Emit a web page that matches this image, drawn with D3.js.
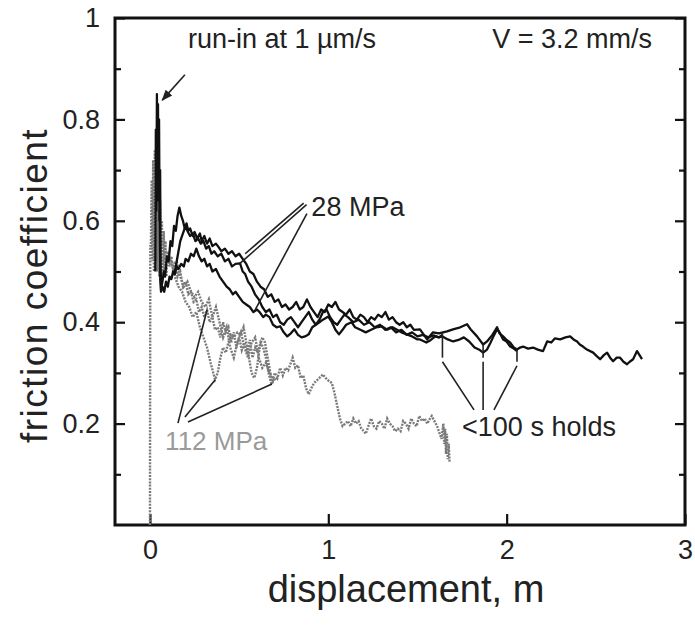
<!DOCTYPE html>
<html lang="en">
<head>
  <meta charset="UTF-8">
  <title>Friction coefficient vs displacement</title>
  <style>
    html, body { margin: 0; padding: 0; background: #fff; }
    svg { display: block; font-family: "Liberation Sans", Arial, sans-serif; }
  </style>
</head>
<body>
  <svg id="svg" width="695" height="626"></svg>

  <script src="https://cdn.jsdelivr.net/npm/d3@7"></script>
  <script>
    // ---- data: [displacement (m), friction coefficient] ----
    const blackA = [
      [0.030,0.50],[0.033,0.78],[0.036,0.62],[0.039,0.85],[0.042,0.66],[0.045,0.83],[0.048,0.64],[0.051,0.80],
      [0.054,0.60],[0.057,0.70],[0.060,0.50],[0.064,0.47],[0.070,0.48],[0.078,0.50],[0.085,0.49],[0.095,0.53],
      [0.105,0.52],[0.115,0.56],[0.125,0.55],[0.135,0.59],[0.145,0.58],[0.155,0.61],[0.165,0.626],[0.175,0.61],
      [0.185,0.60],[0.195,0.585],[0.205,0.595],[0.215,0.58],[0.225,0.585],[0.24,0.57],[0.25,0.578],[0.265,0.565],
      [0.28,0.575],[0.29,0.56],[0.305,0.57],[0.32,0.555],[0.335,0.565],[0.35,0.55],[0.37,0.555],[0.385,0.548],
      [0.40,0.54],[0.42,0.545],[0.44,0.535],[0.46,0.54],[0.48,0.53],[0.50,0.535],[0.52,0.525],[0.54,0.515],
      [0.56,0.50],[0.58,0.495],[0.60,0.48],[0.62,0.47],[0.64,0.465],[0.66,0.45],[0.68,0.455],[0.70,0.44],
      [0.72,0.445],[0.74,0.43],[0.76,0.435],[0.78,0.425],[0.80,0.43],[0.82,0.44],[0.84,0.425],[0.86,0.43],
      [0.88,0.445],[0.90,0.43],[0.92,0.42],[0.94,0.41],[0.96,0.425],[0.98,0.42],[1.00,0.435],[1.02,0.43],
      [1.04,0.44],[1.06,0.425],[1.08,0.42],[1.10,0.415],[1.12,0.425],[1.14,0.41],[1.16,0.405],[1.18,0.415],
      [1.20,0.41],[1.22,0.40],[1.24,0.41],[1.26,0.405],[1.28,0.415],[1.30,0.41],[1.32,0.42],[1.34,0.405],
      [1.36,0.41],[1.38,0.40],[1.40,0.395],[1.42,0.40],[1.44,0.39],[1.46,0.395],[1.48,0.385],[1.514,0.386],
      [1.554,0.366],[1.587,0.38],[1.62,0.378],[1.666,0.382],[1.699,0.386],[1.74,0.39],[1.778,0.396],[1.80,0.385],
      [1.834,0.372],[1.868,0.356],[1.89,0.362],[1.92,0.375],[1.946,0.39],[1.96,0.378],[1.98,0.372],[2.00,0.365],
      [2.019,0.36],[2.04,0.35],[2.058,0.346],[2.075,0.35],[2.092,0.352],[2.12,0.348],[2.148,0.35],[2.175,0.346],
      [2.204,0.343],[2.227,0.362],[2.25,0.36],[2.27,0.368],[2.30,0.366],[2.33,0.37],[2.356,0.372],[2.375,0.366],
      [2.395,0.362],[2.41,0.356],[2.428,0.352],[2.45,0.346],[2.485,0.34],[2.505,0.333],[2.524,0.327],[2.545,0.335],
      [2.563,0.34],[2.58,0.33],[2.597,0.323],[2.617,0.33],[2.636,0.33],[2.655,0.322],[2.675,0.317],[2.69,0.322],
      [2.709,0.327],[2.731,0.343],[2.745,0.335],[2.759,0.327]
    ];

    const blackB = [
      [0.055,0.62],[0.058,0.48],[0.062,0.46],[0.07,0.47],[0.08,0.46],[0.09,0.48],[0.10,0.47],[0.11,0.49],
      [0.12,0.485],[0.13,0.50],[0.14,0.495],[0.15,0.51],[0.16,0.505],[0.175,0.515],[0.19,0.51],[0.20,0.525],
      [0.215,0.52],[0.23,0.535],[0.245,0.53],[0.26,0.545],[0.275,0.53],[0.29,0.52],[0.305,0.525],[0.32,0.51],
      [0.335,0.515],[0.35,0.50],[0.37,0.505],[0.39,0.49],[0.41,0.48],[0.43,0.47],[0.447,0.465],[0.465,0.455],
      [0.48,0.46],[0.50,0.45],[0.52,0.44],[0.54,0.435],[0.56,0.43],[0.58,0.42],[0.60,0.425],[0.615,0.42],
      [0.635,0.41],[0.65,0.415],[0.67,0.41],[0.69,0.395],[0.71,0.39],[0.73,0.392],[0.75,0.38],[0.77,0.372],
      [0.79,0.378],[0.81,0.386],[0.83,0.375],[0.85,0.37],[0.87,0.372],[0.89,0.376],[0.91,0.39],[0.93,0.395],
      [0.95,0.40],[0.97,0.405],[1.00,0.411],[1.02,0.40],[1.04,0.385],[1.06,0.376],[1.08,0.385],[1.10,0.395],
      [1.13,0.40],[1.15,0.39],[1.18,0.385],[1.21,0.38],[1.24,0.385],[1.27,0.39],[1.30,0.392],[1.33,0.385],
      [1.36,0.39],[1.38,0.386],[1.41,0.38],[1.44,0.376],[1.47,0.372],[1.50,0.366],[1.514,0.366],[1.55,0.36],
      [1.575,0.365],[1.60,0.372],[1.62,0.37],[1.64,0.372],[1.67,0.366],[1.70,0.362],[1.73,0.365],[1.76,0.37],
      [1.79,0.362],[1.82,0.35],[1.85,0.345],[1.868,0.34],[1.89,0.346],[1.91,0.36],[1.93,0.375],[1.946,0.386],
      [1.96,0.38],[1.98,0.366],[2.00,0.362],[2.02,0.352],[2.04,0.348],[2.058,0.343]
    ];

    const blackC = [
      [0.14,0.50],[0.155,0.53],[0.17,0.56],[0.185,0.575],[0.20,0.59],[0.21,0.58],[0.225,0.57],[0.24,0.575],
      [0.255,0.56],[0.27,0.565],[0.285,0.555],[0.30,0.56],[0.315,0.545],[0.33,0.55],[0.345,0.535],[0.36,0.54],
      [0.38,0.53],[0.40,0.535],[0.42,0.52],[0.44,0.525],[0.46,0.51],[0.48,0.515],[0.505,0.516],[0.52,0.50],
      [0.534,0.495],[0.55,0.48],[0.57,0.47],[0.589,0.455],[0.61,0.445],[0.63,0.43],[0.65,0.42],[0.67,0.425],
      [0.69,0.41],[0.71,0.415],[0.73,0.40],[0.75,0.395],[0.77,0.405],[0.79,0.41],[0.81,0.40],[0.83,0.39],
      [0.85,0.40],[0.87,0.41],[0.89,0.42],[0.91,0.405],[0.93,0.395],[0.95,0.405],[0.97,0.42],[0.99,0.425],
      [1.01,0.41],[1.03,0.40],[1.05,0.395],[1.07,0.405],[1.09,0.415],[1.11,0.41],[1.14,0.40],[1.17,0.405],
      [1.20,0.395],[1.23,0.40],[1.26,0.39],[1.29,0.395],[1.32,0.385],[1.35,0.39],[1.38,0.38],[1.41,0.385],
      [1.44,0.375],[1.47,0.38],[1.50,0.372],[1.53,0.375],[1.56,0.37],[1.59,0.374],[1.62,0.37],[1.64,0.375]
    ];

    const grayA = [
      [0.0,0.0],[0.002,0.55],[0.005,0.55],[0.010,0.68],[0.014,0.52],[0.018,0.72],[0.022,0.50],[0.027,0.74],
      [0.032,0.52],[0.037,0.71],[0.042,0.50],[0.047,0.68],[0.052,0.49],[0.057,0.64],[0.062,0.48],[0.067,0.60],
      [0.072,0.49],[0.077,0.58],[0.082,0.50],[0.087,0.56],[0.092,0.49],[0.10,0.54],[0.11,0.51],[0.12,0.53],
      [0.13,0.50],[0.14,0.52],[0.155,0.49],[0.17,0.50],[0.185,0.47],[0.20,0.48],[0.215,0.455],[0.23,0.46],
      [0.245,0.44],[0.26,0.445],[0.275,0.42],[0.29,0.43],[0.305,0.41],[0.32,0.424],[0.335,0.40],[0.35,0.41],
      [0.365,0.385],[0.38,0.39],[0.395,0.37],[0.41,0.40],[0.425,0.38],[0.44,0.39],[0.455,0.36],[0.47,0.38],
      [0.485,0.35],[0.50,0.37],[0.515,0.345],[0.53,0.36],[0.545,0.34],[0.56,0.365],[0.575,0.33],[0.59,0.35],
      [0.605,0.34],[0.62,0.36],[0.635,0.35],[0.65,0.33],[0.665,0.30],[0.68,0.28],[0.69,0.285],[0.70,0.30],
      [0.715,0.29],[0.73,0.31],[0.745,0.295],[0.76,0.31],[0.775,0.305],[0.79,0.32],[0.80,0.33],[0.815,0.31],
      [0.83,0.315],[0.845,0.29],[0.86,0.295],[0.875,0.27],[0.89,0.258],[0.905,0.27],[0.92,0.28],[0.935,0.285],
      [0.95,0.29],[0.97,0.297],[0.985,0.29],[1.00,0.285],[1.02,0.28],[1.035,0.26],[1.05,0.235],[1.065,0.21],
      [1.08,0.195],[1.095,0.20],[1.11,0.205],[1.125,0.195],[1.14,0.21],[1.155,0.20],[1.17,0.205],[1.185,0.19],
      [1.20,0.185],[1.21,0.18],[1.225,0.195],[1.24,0.21],[1.255,0.195],[1.27,0.19],[1.285,0.205],[1.30,0.20],
      [1.315,0.19],[1.33,0.21],[1.345,0.20],[1.36,0.195],[1.375,0.185],[1.39,0.19],[1.405,0.185],[1.42,0.205],
      [1.435,0.20],[1.45,0.19],[1.465,0.21],[1.48,0.20],[1.495,0.195],[1.51,0.215],[1.525,0.205],[1.54,0.21],
      [1.555,0.20],[1.57,0.21],[1.58,0.215],[1.595,0.205],[1.61,0.195],[1.625,0.18],[1.635,0.17],[1.645,0.20],
      [1.65,0.16],[1.655,0.19],[1.66,0.14],[1.665,0.18],[1.67,0.13],[1.675,0.16],[1.68,0.124]
    ];

    const grayB = [
      [0.10,0.53],[0.12,0.52],[0.14,0.49],[0.16,0.47],[0.18,0.46],[0.20,0.44],[0.22,0.43],[0.24,0.41],
      [0.26,0.42],[0.28,0.39],[0.30,0.37],[0.32,0.35],[0.34,0.32],[0.355,0.30],[0.365,0.287],[0.38,0.30],
      [0.395,0.33],[0.41,0.35],[0.425,0.34],[0.44,0.36],[0.455,0.375],[0.47,0.37],[0.49,0.38],[0.51,0.375],
      [0.525,0.39],[0.54,0.36],[0.555,0.33],[0.57,0.30],[0.585,0.29],[0.60,0.31],[0.615,0.35],[0.63,0.37],
      [0.645,0.36],[0.66,0.33],[0.675,0.30],[0.684,0.278],[0.70,0.29],[0.71,0.287]
    ];

    const grayC = [
      [0.15,0.52],[0.17,0.49],[0.19,0.47],[0.21,0.48],[0.23,0.46],[0.25,0.45],[0.27,0.46],[0.29,0.44],
      [0.31,0.43],[0.33,0.445],[0.35,0.41],[0.37,0.43],[0.39,0.40],[0.41,0.37],[0.43,0.39],[0.45,0.35],
      [0.47,0.33],[0.49,0.36],[0.51,0.38],[0.53,0.35],[0.55,0.33],[0.57,0.36],[0.59,0.37],[0.61,0.33],
      [0.63,0.31],[0.65,0.32],[0.67,0.30],[0.69,0.29]
    ];

    const xTicks = [0, 1, 2, 3]
    const xTickLabels = ['0', '1', '2', '3']
    const yTicks = [0.2, 0.4, 0.6, 0.8, 1]
    const yTickLabels = ['0.2', '0.4', '0.6', '0.8', '1']
    const yMinorTicks = [0.1, 0.3, 0.5, 0.7, 0.9]

    // hold marks on the curves and where their leaders meet the label
    const holds = [[1.64, 0.378, 0.33], [1.868, 0.356, 0.33], [2.058, 0.346, 0.322]]
    const holdLeaderEnds = [[1.817, 0.227], [1.868, 0.227], [1.929, 0.227]]
    const lowLeaders = [[[0.157, 0.201], [0.32, 0.424]], [[0.196, 0.213], [0.365, 0.286]], [[0.213, 0.203], [0.684, 0.278]]]
    const highLeaders = [[[0.862, 0.635], [0.534, 0.535]], [[0.878, 0.632], [0.505, 0.516]], [[0.88, 0.614], [0.589, 0.424]]]

    // ---- layout ----
    const svg = d3.select('#svg')
    const x = d3.scaleLinear().domain([-0.196, 3]).range([115, 685])
    const y = d3.scaleLinear().domain([0, 1]).range([525, 18])

    const line = d3.line().x(d => x(d[0])).y(d => y(d[1]))

    const axisFont = 27

    // left axis
    svg.append('g').attr('transform', `translate(${x.range()[0]},0)`)
      .call(d3.axisLeft(y).tickValues(yTicks).tickSizeInner(-10).tickSizeOuter(0).tickPadding(15)
        .tickFormat((d, i) => yTickLabels[i]))
    svg.append('g').attr('transform', `translate(${x.range()[0]},0)`)
      .call(d3.axisLeft(y).tickValues(yMinorTicks).tickSizeInner(-6).tickSizeOuter(0).tickFormat(''))

    // right axis
    svg.append('g').attr('transform', `translate(${x.range()[1]},0)`)
      .call(d3.axisRight(y).tickValues(yTicks).tickSizeInner(-10).tickSizeOuter(0).tickFormat(''))
    svg.append('g').attr('transform', `translate(${x.range()[1]},0)`)
      .call(d3.axisRight(y).tickValues(yMinorTicks).tickSizeInner(-6).tickSizeOuter(0).tickFormat(''))

    // bottom axis
    svg.append('g').attr('transform', `translate(0,${y.range()[0]})`)
      .call(d3.axisBottom(x).tickValues(xTicks).tickSizeInner(-11).tickSizeOuter(0).tickPadding(15)
        .tickFormat((d, i) => xTickLabels[i]))

    svg.selectAll('.domain').remove()
    svg.selectAll('.tick line').attr('stroke', '#111').attr('stroke-width', 2.2)
    svg.selectAll('.tick text').attr('font-size', axisFont).attr('fill', '#222')
      .attr('font-family', '"Liberation Sans", Arial, sans-serif')

    // frame
    svg.append('rect')
      .attr('x', x.range()[0]).attr('y', y.range()[1])
      .attr('width', x.range()[1] - x.range()[0])
      .attr('height', y.range()[0] - y.range()[1])
      .attr('fill', 'none').attr('stroke', '#111').attr('stroke-width', 3)

    // 112 MPa curves (gray, stippled)
    svg.append('g').selectAll('path.gray')
      .data([grayA, grayB, grayC])
      .enter().append('path')
      .attr('class', 'gray')
      .attr('d', line)
      .attr('fill', 'none')
      .attr('stroke', '#7a7a7a')
      .attr('stroke-width', 2.4)
      .attr('stroke-dasharray', '2,1.2')

    // 28 MPa curves (black)
    svg.append('g').selectAll('path.black')
      .data([blackC, blackB, blackA])
      .enter().append('path')
      .attr('class', 'black')
      .attr('d', line)
      .attr('fill', 'none')
      .attr('stroke', '#111')
      .attr('stroke-width', 2.3)
      .attr('stroke-linejoin', 'round')

    // annotations
    const ann = svg.append('g').attr('stroke', '#222').attr('stroke-width', 1.6)

    ann.selectAll('line.hold')
      .data(holds).enter().append('line')
      .attr('x1', d => x(d[0])).attr('x2', d => x(d[0]))
      .attr('y1', d => y(d[1])).attr('y2', d => y(d[2]))

    ann.selectAll('line.holdLeader')
      .data(holds).enter().append('line')
      .attr('x1', d => x(d[0])).attr('y1', d => y(d[2]) + 4)
      .attr('x2', (d, i) => x(holdLeaderEnds[i][0])).attr('y2', (d, i) => y(holdLeaderEnds[i][1]))

    ann.selectAll('line.low')
      .data(lowLeaders).enter().append('line')
      .attr('x1', d => x(d[0][0])).attr('y1', d => y(d[0][1]))
      .attr('x2', d => x(d[1][0])).attr('y2', d => y(d[1][1]))

    ann.selectAll('line.high')
      .data(highLeaders).enter().append('line')
      .attr('x1', d => x(d[0][0])).attr('y1', d => y(d[0][1]))
      .attr('x2', d => x(d[1][0])).attr('y2', d => y(d[1][1]))

    svg.append('defs').append('marker')
      .attr('id', 'arrow').attr('viewBox', '0 0 10 10')
      .attr('refX', 9).attr('refY', 5)
      .attr('markerWidth', 7).attr('markerHeight', 7)
      .attr('orient', 'auto')
      .append('path').attr('d', 'M0,1 L10,5 L0,9 Z').attr('fill', '#222')

    ann.append('line')
      .attr('x1', x(0.196)).attr('y1', y(0.888))
      .attr('x2', x(0.069)).attr('y2', y(0.838))
      .attr('marker-end', 'url(#arrow)')

    const label = (t, xv, yv, size, anchor, fill) => svg.append('text')
      .attr('x', x(xv)).attr('y', y(yv))
      .attr('font-size', size).attr('text-anchor', anchor || 'start')
      .attr('fill', fill || '#222')
      .text(t)

    label('run-in at 1 µm/s', 0.213, 0.941, 27)
    label('V = 3.2 mm/s', 2.815, 0.941, 27, 'end')
    label('28 MPa', 0.905, 0.61, 27)
    label('112 MPa', 0.085, 0.147, 26, 'start', '#9a9a9a')
    label('<100 s holds', 1.75, 0.175, 27)

    // axis titles
    svg.append('text')
      .attr('x', (x.range()[0] + x.range()[1]) / 2 + 6).attr('y', 602)
      .attr('text-anchor', 'middle').attr('font-size', 38).attr('fill', '#222')
      .text('displacement, m')

    svg.append('text')
      .attr('transform', `translate(47,${(y.range()[0] + y.range()[1]) / 2 + 14}) rotate(-90)`)
      .attr('text-anchor', 'middle').attr('font-size', 37).attr('letter-spacing', 1.5).attr('fill', '#222')
      .text('friction coefficient')
  </script>
</body>
</html>
